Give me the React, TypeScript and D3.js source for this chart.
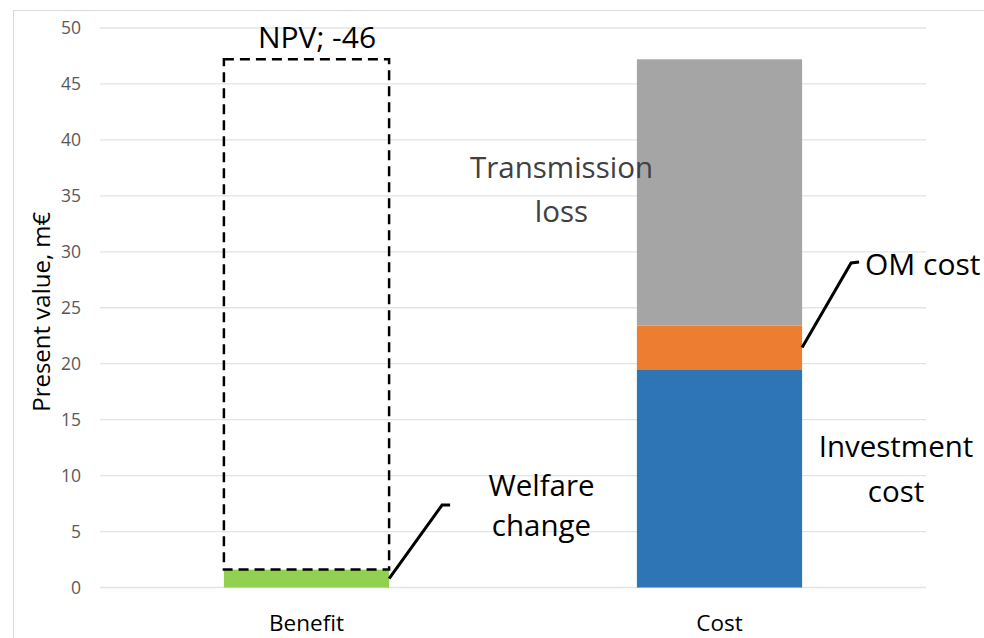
import React from "react";
import * as d3 from "d3";

// Categories and stacked components (present value, m€)
const categories = ["Benefit", "Cost"];
const welfareChange = [1.6];                 // Benefit bar
const costLabels = ["Investment cost", "OM cost", "Transmission loss"];
const costValues = [19.5, 3.9, 23.8];        // Cost bar, bottom to top
const costColors = ["#2e75b6", "#ed7d31", "#a5a5a5"];
const yTicks = [0, 5, 10, 15, 20, 25, 30, 35, 40, 45, 50];

const W = 984;
const H = 638;
const FONT = "'Open Sans', 'Segoe UI', sans-serif";

export default function App() {
  const y = d3.scaleLinear().domain([0, 50]).range([587.5, 28]);
  const x = d3.scaleBand<string>().domain(categories).range([100, 926]).padding(0);
  const barW = x.step() * 0.4;
  const cx = (c: string) => (x(c) as number) + x.bandwidth() / 2;
  const bx = (c: string) => cx(c) - barW / 2;

  const benefit = welfareChange[0];
  const totalCost = d3.sum(costValues);
  const npv = benefit - totalCost;

  const stack = costValues.map((v, i) => {
    const y0 = d3.sum(costValues.slice(0, i));
    return { y0, y1: y0 + v, color: costColors[i], label: costLabels[i] };
  });

  const leader = d3.line<[number, number]>();
  const benRight = bx("Benefit") + barW;
  const costRight = bx("Cost") + barW;
  const omMid = (stack[1].y0 + stack[1].y1) / 2;

  const annoSize = 29.5;

  return (
    <svg
      width={W}
      height={H}
      style={{ position: "absolute", left: 0, top: 0, background: "#fff" }}
      fontFamily={FONT}
    >
      {/* chart frame */}
      <rect x={13.5} y={10.5} width={W} height={H} fill="#fff" stroke="#d9d9d9" />

      {/* gridlines and y tick labels */}
      {yTicks.map((t) => (
        <g key={t}>
          <line x1={100} x2={926} y1={y(t)} y2={y(t)} stroke="#e3e3e3" strokeWidth={1.3} />
          <text x={81} y={y(t)} dy="0.35em" textAnchor="end" fontSize={17.5} fill="#595959">
            {t}
          </text>
        </g>
      ))}

      {/* y-axis title */}
      <text
        transform={`translate(50, ${(y(0) + y(50)) / 2 + 4}) rotate(-90)`}
        textAnchor="middle"
        fontSize={24}
        fill="#000"
      >
        Present value, m€
      </text>

      {/* Benefit: welfare change bar */}
      <rect
        x={bx("Benefit")}
        y={y(benefit)}
        width={barW}
        height={y(0) - y(benefit)}
        fill="#92d050"
      />
      {/* NPV gap box */}
      <rect
        x={bx("Benefit")}
        y={y(benefit - npv)}
        width={barW}
        height={y(benefit) - y(benefit - npv)}
        fill="none"
        stroke="#000"
        strokeWidth={2.5}
        strokeDasharray="10 6"
      />

      {/* Cost: stacked components */}
      {stack.map((s) => (
        <rect
          key={s.label}
          x={bx("Cost")}
          y={y(s.y1)}
          width={barW}
          height={y(s.y0) - y(s.y1)}
          fill={s.color}
        />
      ))}

      {/* x category labels */}
      {categories.map((c) => (
        <text key={c} x={cx(c)} y={631} textAnchor="middle" fontSize={22.5} fill="#000">
          {c}
        </text>
      ))}

      {/* leader lines */}
      <path
        d={leader([
          [benRight, y(benefit / 2)],
          [benRight + 53, 505],
          [benRight + 61, 505],
        ]) as string}
        fill="none"
        stroke="#000"
        strokeWidth={3}
      />
      <path
        d={leader([
          [costRight, y(omMid)],
          [costRight + 49, 263],
          [costRight + 57, 262],
        ]) as string}
        fill="none"
        stroke="#000"
        strokeWidth={3}
      />

      {/* annotations */}
      <text x={317} y={48} textAnchor="middle" fontSize={annoSize + 0.5} fill="#000">
        {`NPV; ${Math.round(npv)}`}
      </text>
      <text textAnchor="middle" fontSize={annoSize} fill="#404040">
        <tspan x={561.5} y={178}>Transmission</tspan>
        <tspan x={561.5} y={222}>loss</tspan>
      </text>
      <text textAnchor="middle" fontSize={annoSize} fill="#000">
        <tspan x={541.5} y={496}>Welfare</tspan>
        <tspan x={541.5} y={536}>change</tspan>
      </text>
      <text textAnchor="middle" fontSize={annoSize} fill="#000">
        <tspan x={896} y={457}>Investment</tspan>
        <tspan x={896} y={502}>cost</tspan>
      </text>
      <text x={865} y={275} fontSize={annoSize + 0.5} fill="#000">
        OM cost
      </text>
    </svg>
  );
}
